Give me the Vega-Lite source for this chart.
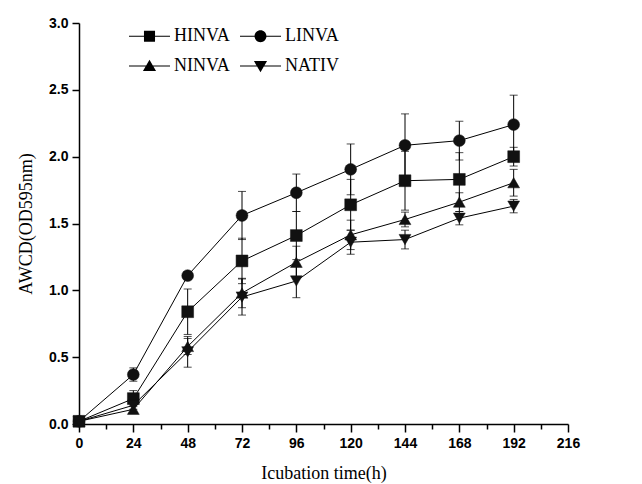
{
  "$schema": "https://vega.github.io/schema/vega-lite/v6.json",
  "width": 489,
  "height": 401,
  "autosize": "none",
  "padding": {"left": 79, "top": 23, "right": 74, "bottom": 60},
  "background": "white",
  "config": {
    "view": {"stroke": null},
    "axis": {
      "domainColor": "black", "domainWidth": 1.5, "tickColor": "black", "tickWidth": 1.5,
      "labelFont": "Liberation Sans", "labelFontWeight": "bold", "labelFontSize": 14, "labelColor": "black",
      "titleFont": "Liberation Serif", "titleFontWeight": "normal", "titleFontSize": 18, "titleColor": "black",
      "grid": false, "labelOverlap": false, "labelFlush": false
    }
  },
  "data": {"values": [
    {"s": "HINVA", "t": 0, "v": 0.02, "lo": 0.01, "hi": 0.03},
    {"s": "HINVA", "t": 24, "v": 0.19, "lo": 0.13, "hi": 0.25},
    {"s": "HINVA", "t": 48, "v": 0.84, "lo": 0.67, "hi": 1.01},
    {"s": "HINVA", "t": 72, "v": 1.22, "lo": 1.05, "hi": 1.39},
    {"s": "HINVA", "t": 96, "v": 1.41, "lo": 1.23, "hi": 1.59},
    {"s": "HINVA", "t": 120, "v": 1.64, "lo": 1.45, "hi": 1.83},
    {"s": "HINVA", "t": 144, "v": 1.82, "lo": 1.60, "hi": 2.04},
    {"s": "HINVA", "t": 168, "v": 1.83, "lo": 1.63, "hi": 2.03},
    {"s": "HINVA", "t": 192, "v": 2.00, "lo": 1.93, "hi": 2.07},
    {"s": "LINVA", "t": 0, "v": 0.02, "lo": 0.01, "hi": 0.03},
    {"s": "LINVA", "t": 24, "v": 0.37, "lo": 0.32, "hi": 0.42},
    {"s": "LINVA", "t": 48, "v": 1.11, "lo": 1.08, "hi": 1.14},
    {"s": "LINVA", "t": 72, "v": 1.56, "lo": 1.38, "hi": 1.74},
    {"s": "LINVA", "t": 96, "v": 1.73, "lo": 1.59, "hi": 1.87},
    {"s": "LINVA", "t": 120, "v": 1.905, "lo": 1.715, "hi": 2.095},
    {"s": "LINVA", "t": 144, "v": 2.085, "lo": 1.85, "hi": 2.32},
    {"s": "LINVA", "t": 168, "v": 2.12, "lo": 1.975, "hi": 2.265},
    {"s": "LINVA", "t": 192, "v": 2.24, "lo": 2.02, "hi": 2.46},
    {"s": "NINVA", "t": 0, "v": 0.02, "lo": 0.01, "hi": 0.03},
    {"s": "NINVA", "t": 24, "v": 0.11, "lo": 0.08, "hi": 0.14},
    {"s": "NINVA", "t": 48, "v": 0.58, "lo": 0.52, "hi": 0.64},
    {"s": "NINVA", "t": 72, "v": 0.98, "lo": 0.87, "hi": 1.09},
    {"s": "NINVA", "t": 96, "v": 1.21, "lo": 1.09, "hi": 1.33},
    {"s": "NINVA", "t": 120, "v": 1.415, "lo": 1.305, "hi": 1.525},
    {"s": "NINVA", "t": 144, "v": 1.53, "lo": 1.475, "hi": 1.585},
    {"s": "NINVA", "t": 168, "v": 1.66, "lo": 1.59, "hi": 1.73},
    {"s": "NINVA", "t": 192, "v": 1.805, "lo": 1.705, "hi": 1.905},
    {"s": "NATIV", "t": 0, "v": 0.02, "lo": 0.01, "hi": 0.03},
    {"s": "NATIV", "t": 24, "v": 0.14, "lo": 0.11, "hi": 0.17},
    {"s": "NATIV", "t": 48, "v": 0.54, "lo": 0.425, "hi": 0.655},
    {"s": "NATIV", "t": 72, "v": 0.95, "lo": 0.815, "hi": 1.085},
    {"s": "NATIV", "t": 96, "v": 1.07, "lo": 0.945, "hi": 1.195},
    {"s": "NATIV", "t": 120, "v": 1.36, "lo": 1.27, "hi": 1.45},
    {"s": "NATIV", "t": 144, "v": 1.38, "lo": 1.31, "hi": 1.45},
    {"s": "NATIV", "t": 168, "v": 1.54, "lo": 1.49, "hi": 1.59},
    {"s": "NATIV", "t": 192, "v": 1.63, "lo": 1.58, "hi": 1.68}
  ]},
  "encoding": {
    "x": {
      "field": "t", "type": "quantitative",
      "scale": {"domain": [0, 216], "nice": false},
      "axis": {
        "title": "Icubation time(h)",
        "values": [0, 12, 24, 36, 48, 60, 72, 84, 96, 108, 120, 132, 144, 156, 168, 180, 192, 204, 216],
        "labelExpr": "datum.value % 24 === 0 ? datum.label : ''",
        "tickSize": {"condition": {"test": "datum.value % 24 === 0", "value": 8}, "value": 5},
        "labelPadding": 4,
        "titlePadding": 14
      }
    }
  },
  "layer": [
    {
      "mark": {"type": "rule", "color": "black", "strokeWidth": 1},
      "encoding": {
        "y": {
          "field": "lo", "type": "quantitative",
          "scale": {"domain": [0, 3], "nice": false},
          "axis": {
            "title": "AWCD(OD595nm)",
            "values": [0, 0.25, 0.5, 0.75, 1, 1.25, 1.5, 1.75, 2, 2.25, 2.5, 2.75, 3],
            "format": ".1f",
            "labelExpr": "round(datum.value * 4) % 2 === 0 ? datum.label : ''",
            "tickSize": {"condition": {"test": "round(datum.value * 4) % 2 === 0", "value": 7}, "value": 4},
            "labelPadding": 4,
            "titlePadding": 13
          }
        },
        "y2": {"field": "hi"}
      }
    },
    {
      "mark": {"type": "tick", "orient": "horizontal", "color": "black", "size": 8, "thickness": 1},
      "encoding": {"y": {"field": "lo", "type": "quantitative"}}
    },
    {
      "mark": {"type": "tick", "orient": "horizontal", "color": "black", "size": 8, "thickness": 1},
      "encoding": {"y": {"field": "hi", "type": "quantitative"}}
    },
    {
      "mark": {"type": "line", "color": "black", "strokeWidth": 1},
      "encoding": {
        "y": {"field": "v", "type": "quantitative"},
        "detail": {"field": "s"}
      }
    },
    {
      "mark": {"type": "point", "filled": true, "opacity": 1, "size": 140, "color": "#111111", "stroke": "#111111", "strokeWidth": 0.5},
      "encoding": {
        "y": {"field": "v", "type": "quantitative"},
        "shape": {
          "field": "s", "type": "nominal",
          "scale": {"domain": ["HINVA", "LINVA", "NINVA", "NATIV"], "range": ["square", "circle", "triangle-up", "triangle-down"]},
          "legend": null
        }
      }
    },
    {
      "mark": {"type": "point", "filled": true, "size": 0, "opacity": 1, "color": "black"},
      "encoding": {
        "y": {"field": "v", "type": "quantitative"},
        "shape": {
          "field": "s", "type": "nominal",
          "scale": {"domain": ["HINVA", "LINVA", "NINVA", "NATIV"], "range": [
            "M-1,-0.025L1,-0.025L1,0.025L-1,0.025ZM-0.27,-0.27L0.27,-0.27L0.27,0.27L-0.27,0.27Z",
            "M-1,-0.025L1,-0.025L1,0.025L-1,0.025ZM0.29,0A0.29,0.29,0,1,1,-0.29,0A0.29,0.29,0,1,1,0.29,0Z",
            "M-1,-0.025L1,-0.025L1,0.025L-1,0.025ZM0,-0.3L0.32,0.24L-0.32,0.24Z",
            "M-1,-0.025L1,-0.025L1,0.025L-1,0.025ZM0,0.3L-0.32,-0.24L0.32,-0.24Z"
          ]},
          "legend": {
            "title": null,
            "orient": "none",
            "legendX": 50,
            "legendY": -7.5,
            "direction": "horizontal",
            "columns": 2,
            "symbolSize": 1681,
            "symbolStrokeWidth": 0,
            "symbolFillColor": "black",
            "symbolOpacity": 1,
            "labelFont": "Liberation Serif",
            "labelFontSize": 18,
            "labelColor": "black",
            "labelOffset": 4,
            "columnPadding": 10,
            "rowPadding": -9
          }
        }
      }
    }
  ],
  "resolve": {"scale": {"shape": "independent"}, "legend": {"shape": "independent"}}
}
